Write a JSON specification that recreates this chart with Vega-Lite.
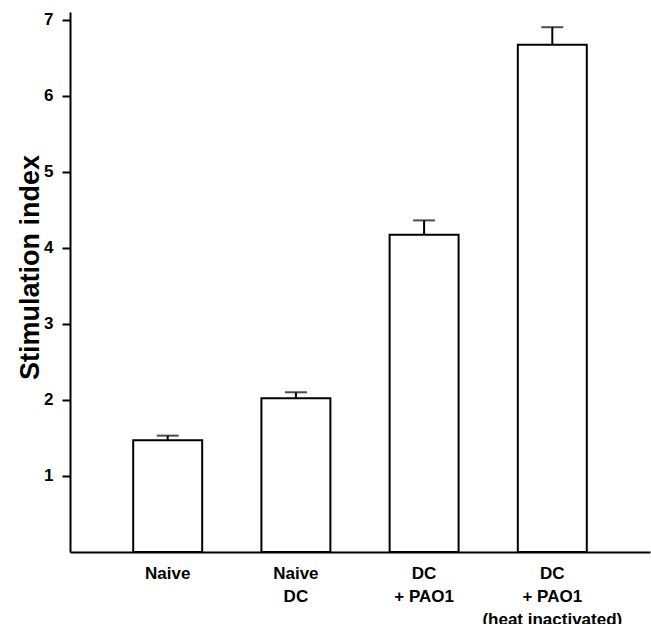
{
  "$schema": "https://vega.github.io/schema/vega-lite/v6.json",
  "autosize": "none",
  "padding": {"left": 70, "top": 12, "right": 1, "bottom": 72},
  "width": 580,
  "height": 540,
  "config": {
    "view": {"stroke": null},
    "font": "Liberation Sans",
    "axis": {"grid": false, "domainColor": "#000", "domainWidth": 2, "labelColor": "#000", "titleColor": "#000", "labelFont": "Liberation Sans", "titleFont": "Liberation Sans", "labelFontWeight": "bold", "titleFontWeight": "bold"}
  },
  "data": {
    "values": [
      {"group": "Naive", "si": 1.47, "upper": 1.53},
      {"group": "Naive DC", "si": 2.02, "upper": 2.1},
      {"group": "DC + PAO1", "si": 4.17, "upper": 4.36},
      {"group": "DC + PAO1 (heat inactivated)", "si": 6.67, "upper": 6.9}
    ]
  },
  "encoding": {
    "x": {
      "field": "group",
      "type": "nominal",
      "sort": null,
      "scale": {"paddingInner": 0.462, "paddingOuter": 0.493},
      "axis": {
        "title": null,
        "ticks": false,
        "labelAngle": 0,
        "labelFontSize": 17,
        "labelLineHeight": 23,
        "labelPadding": 13,
        "labelBaseline": "top",
        "labelExpr": "datum.value == 'Naive DC' ? ['Naive', 'DC'] : datum.value == 'DC + PAO1' ? ['DC', '+ PAO1'] : datum.value == 'DC + PAO1 (heat inactivated)' ? ['DC', '+ PAO1', '(heat inactivated)'] : datum.value"
      }
    }
  },
  "layer": [
    {
      "mark": {"type": "rule", "stroke": "#000", "strokeWidth": 2},
      "encoding": {
        "y": {"field": "si", "type": "quantitative"},
        "y2": {"field": "upper"}
      }
    },
    {
      "mark": {"type": "tick", "color": "#000", "size": 22, "thickness": 2},
      "encoding": {
        "y": {"field": "upper", "type": "quantitative"}
      }
    },
    {
      "mark": {"type": "bar", "fill": "#fff", "stroke": "#000", "strokeWidth": 2},
      "encoding": {
        "y": {
          "field": "si",
          "type": "quantitative",
          "scale": {"domain": [0, 7.1], "nice": false, "zero": true},
          "axis": {
            "title": "Stimulation index",
            "values": [1, 2, 3, 4, 5, 6, 7],
            "format": "d",
            "ticks": true,
            "tickColor": "#000000",
            "tickWidth": 2,
            "tickSize": 8,
            "labelPadding": 9,
            "labelFontSize": 17,
            "titleFontSize": 27,
            "titleAngle": 270,
            "titleX": -40,
            "titleY": 255,
            "titleAlign": "center",
            "titleBaseline": "middle"
          }
        }
      }
    }
  ]
}
